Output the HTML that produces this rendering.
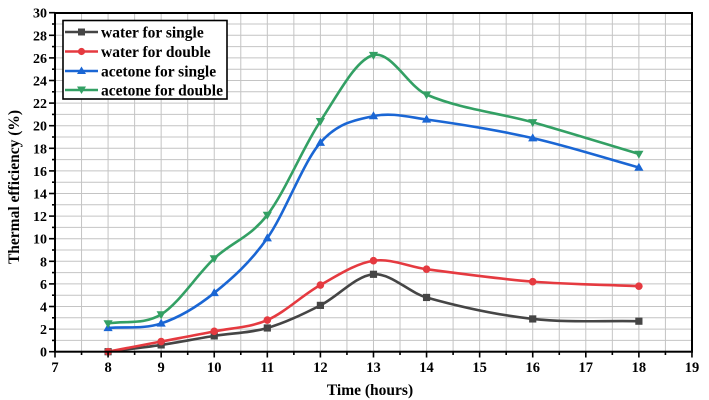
<!DOCTYPE html>
<html>
<head>
<meta charset="utf-8">
<style>
html,body{margin:0;padding:0;background:#fff;}
svg{display:block;}
text{font-family:"Liberation Serif","Times New Roman",serif;font-weight:bold;fill:#000;}
</style>
</head>
<body>
<svg id="c" width="709" height="400" viewBox="0 0 709 400" xmlns="http://www.w3.org/2000/svg">
<rect x="0" y="0" width="709" height="400" fill="#fff"/>
<g id="grid"></g>
<g id="series"></g>
<g id="axes"></g>
<g id="legend">
  <rect x="63" y="20.5" width="164" height="78.5" fill="#fff" stroke="#000" stroke-width="1.6"/>
  <line x1="65" y1="32" x2="98" y2="32" stroke="#454545" stroke-width="2.5"/>
  <rect x="78" y="28.5" width="7" height="7" fill="#454545"/>
  <text x="101" y="37.5" font-size="15.5">water for single</text>
  <line x1="65" y1="51.5" x2="98" y2="51.5" stroke="#e53a40" stroke-width="2.5"/>
  <circle cx="81.5" cy="51.5" r="3.6" fill="#e53a40"/>
  <text x="101" y="57" font-size="15.5">water for double</text>
  <line x1="65" y1="71" x2="98" y2="71" stroke="#1a66d4" stroke-width="2.5"/>
  <polygon points="81.5,66.5 86,74 77,74" fill="#1a66d4"/>
  <text x="101" y="76.5" font-size="15.5">acetone for single</text>
  <line x1="65" y1="90" x2="98" y2="90" stroke="#33a064" stroke-width="2.5"/>
  <polygon points="77,86.5 86,86.5 81.5,94" fill="#33a064"/>
  <text x="101" y="95.5" font-size="15.5">acetone for double</text>
</g>
<text x="370" y="395" font-size="15.5" text-anchor="middle">Time (hours)</text>
<text transform="translate(19,187) rotate(-90)" font-size="15.5" text-anchor="middle">Thermal efficiency (%)</text>
</svg>
<script>
(function(){
var NS="http://www.w3.org/2000/svg";
function X(v){return 55+(v-7)*53.08;}
function Y(v){return 351.7-v*11.3;}
function el(tag,attrs,parent){var e=document.createElementNS(NS,tag);for(var k in attrs)e.setAttribute(k,attrs[k]);parent.appendChild(e);return e;}
var grid=document.getElementById('grid'),ser=document.getElementById('series'),axes=document.getElementById('axes');
for(var h=7.5;h<19;h+=0.5){el('line',{x1:X(h),y1:13,x2:X(h),y2:351.7,stroke:'#c4c4c4','stroke-width':1},grid);}
for(var v=1;v<30;v++){el('line',{x1:55,y1:Y(v),x2:692,y2:Y(v),stroke:'#c4c4c4','stroke-width':1},grid);}
var xs=[8,9,10,11,12,13,14,16,18];
var data=[
 {c:'#454545',m:'sq',y:[0,0.6,1.4,2.1,4.1,6.85,4.8,2.9,2.7]},
 {c:'#e53a40',m:'ci',y:[0,0.9,1.8,2.8,5.9,8.05,7.3,6.2,5.8]},
 {c:'#1a66d4',m:'up',y:[2.1,2.5,5.2,10.05,18.5,20.85,20.55,18.9,16.3]},
 {c:'#33a064',m:'dn',y:[2.5,3.3,8.25,12.1,20.4,26.25,22.75,20.3,17.5]}
];
function curve(x,y){
 var n=x.length,m=[],i;
 for(i=0;i<n;i++){
  if(i==0)m.push((y[1]-y[0])/(x[1]-x[0]));
  else if(i==n-1)m.push((y[n-1]-y[n-2])/(x[n-1]-x[n-2]));
  else m.push((y[i+1]-y[i-1])/(x[i+1]-x[i-1]));
 }
 var d='M'+X(x[0]).toFixed(2)+','+Y(y[0]).toFixed(2);
 for(i=0;i<n-1;i++){
  var dx=x[i+1]-x[i];
  var c1x=x[i]+dx/3,c1y=y[i]+m[i]*dx/3;
  var c2x=x[i+1]-dx/3,c2y=y[i+1]-m[i+1]*dx/3;
  d+=' C'+X(c1x).toFixed(2)+','+Y(c1y).toFixed(2)+' '+X(c2x).toFixed(2)+','+Y(c2y).toFixed(2)+' '+X(x[i+1]).toFixed(2)+','+Y(y[i+1]).toFixed(2);
 }
 return d;
}
data.forEach(function(s){
 el('path',{d:curve(xs,s.y),fill:'none',stroke:s.c,'stroke-width':2.6,'stroke-linejoin':'round'},ser);
});
data.forEach(function(s){
 for(var i=0;i<xs.length;i++){
  var px=X(xs[i]),py=Y(s.y[i]);
  if(s.m=='sq')el('rect',{x:px-3.6,y:py-3.6,width:7.2,height:7.2,fill:s.c},ser);
  else if(s.m=='ci')el('circle',{cx:px,cy:py,r:3.8,fill:s.c},ser);
  else if(s.m=='up')el('polygon',{points:px+','+(py-4.8)+' '+(px+4.6)+','+(py+3.2)+' '+(px-4.6)+','+(py+3.2),fill:s.c},ser);
  else el('polygon',{points:(px-4.6)+','+(py-3.2)+' '+(px+4.6)+','+(py-3.2)+' '+px+','+(py+4.8),fill:s.c},ser);
 }
});
el('rect',{x:55,y:13,width:637,height:338.7,fill:'none',stroke:'#000','stroke-width':2},axes);
for(var v=0;v<=30;v++){
 var major=(v%2==0);
 el('line',{x1:major?49:52,y1:Y(v),x2:55,y2:Y(v),stroke:'#000','stroke-width':1.6},axes);
 if(major){var t=el('text',{x:47,y:Y(v)+5,'font-size':14,'text-anchor':'end'},axes);t.textContent=v;}
}
for(var h=7;h<=19.01;h+=0.5){
 var major=Math.abs(h-Math.round(h))<0.01;
 el('line',{x1:X(h),y1:351.7,x2:X(h),y2:major?357.5:355,stroke:'#000','stroke-width':1.6},axes);
 if(major){var t=el('text',{x:X(h),y:372,'font-size':14.5,'text-anchor':'middle'},axes);t.textContent=Math.round(h);}
}
})();
</script>
</body>
</html>
